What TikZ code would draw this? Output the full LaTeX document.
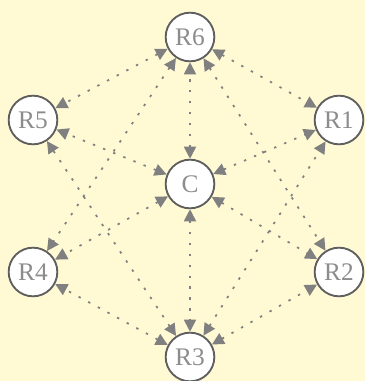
\documentclass[tikz,border=0pt]{standalone}
\usepackage{fontspec}
\setmainfont{Liberation Serif}
\usetikzlibrary{arrows.meta}

\definecolor{bgyellow}{RGB}{255,250,212}
\definecolor{ringgray}{RGB}{95,95,95}
\definecolor{labelgray}{RGB}{140,140,140}
\definecolor{linkgray}{RGB}{128,128,128}

\tikzset{
    router/.style={circle, draw=ringgray, line width=1.4pt, fill=white, text=labelgray,
        minimum size=36.5pt, inner sep=0pt, font=\fontsize{19}{22}\selectfont},
    link/.style={linkgray, line width=1.3pt, dash pattern=on 1.8pt off 6.4pt,
        {Triangle[length=9pt,width=9pt]}-{Triangle[length=9pt,width=9pt]}}
}

\begin{document}
\begin{tikzpicture}[x=0.75pt,y=0.75pt,yscale=-1,xscale=1]
    % background
    \fill[bgyellow] (0,0) rectangle (365,381);
    \useasboundingbox (0,0) rectangle (365,381);

    % Nodes
    \node[router] (r6) at (190,37) {R6};
    \node[router] (r5) at (33,120) {R5};
    \node[router] (r1) at (339,120) {R1};
    \node[router] (c) at (190,184) {C};
    \node[router] (r4) at (33,272) {R4};
    \node[router] (r2) at (339,272) {R2};
    \node[router] (r3) at (190,357) {R3};

    % Links to the centre
    \foreach \r in {r1,r2,r3,r4,r5,r6}
        \draw[link] (c) -- (\r);
    % Outer links
    \draw[link] (r6) -- (r5);
    \draw[link] (r6) -- (r1);
    \draw[link] (r6) -- (r4);
    \draw[link] (r6) -- (r2);
    \draw[link] (r3) -- (r4);
    \draw[link] (r3) -- (r2);
    \draw[link] (r3) -- (r5);
    \draw[link] (r3) -- (r1);
\end{tikzpicture}
\end{document}
